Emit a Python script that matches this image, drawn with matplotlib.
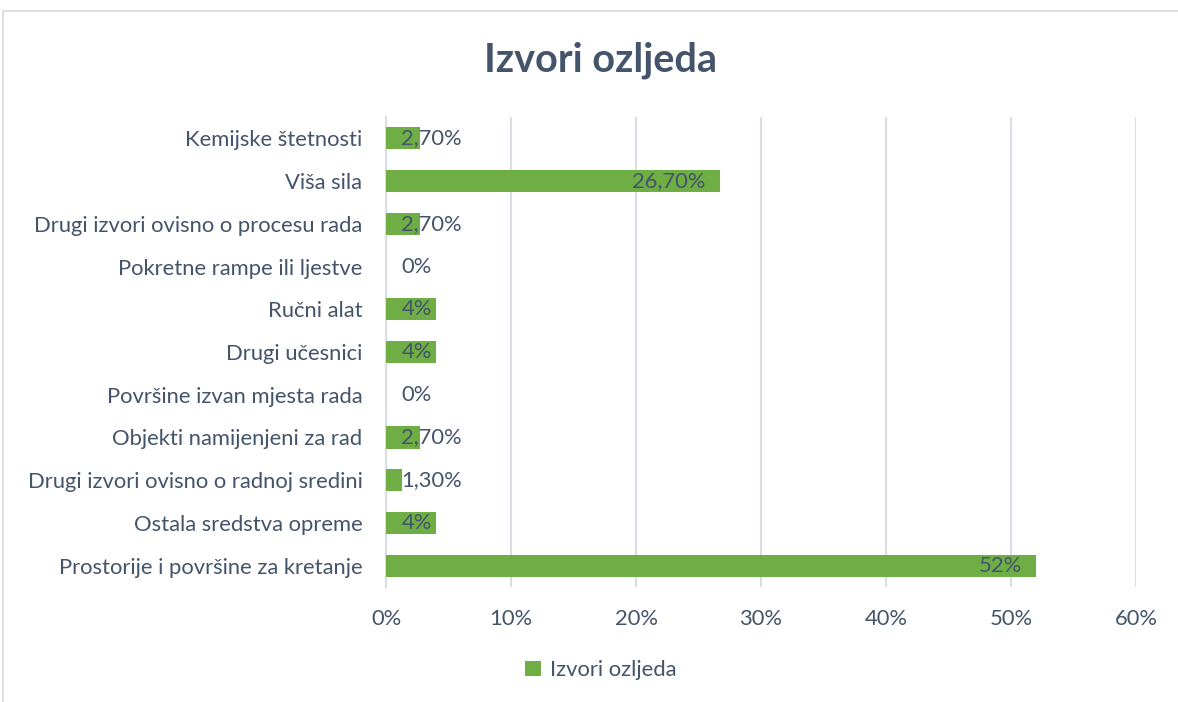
import matplotlib.pyplot as plt
from matplotlib.patches import Rectangle
from matplotlib.ticker import FuncFormatter

plt.rcParams['font.family'] = ['Lato', 'DejaVu Sans']

kategorije = ["Prostorije i površine za kretanje", "Ostala sredstva opreme",
              "Drugi izvori ovisno o radnoj sredini", "Objekti namijenjeni za rad",
              "Površine izvan mjesta rada", "Drugi učesnici", "Ručni alat",
              "Pokretne rampe ili ljestve", "Drugi izvori ovisno o procesu rada",
              "Viša sila", "Kemijske štetnosti"]
vrijednosti = [52, 4, 1.3, 2.7, 0, 4, 4, 0, 2.7, 26.7, 2.7]
oznake = ["52%", "4%", "1,30%", "2,70%", "0%", "4%", "4%", "0%", "2,70%", "26,70%", "2,70%"]

tekst = "#44546A"
zelena = "#6EAE45"
mreza = "#D9DEE4"
fs = 15.8

fig = plt.figure(figsize=(11.78, 7.02), dpi=100)
ax = fig.add_axes([0.3277, 0.1638, 0.6366, 0.6695])

# okvir grafikona
fig.patches.append(Rectangle((3 / 1178, -0.1), 1.2, 1 - 11 / 702 + 0.1,
                             transform=fig.transFigure, fill=False,
                             edgecolor="#D9D9D9", lw=1.2))

y = range(len(kategorije))
ax.barh(y, vrijednosti, height=0.52, color=zelena, zorder=3, label="Izvori ozljeda")

for i, (v, s) in enumerate(zip(vrijednosti, oznake)):
    if v >= 10:
        ax.annotate(s, (v, i), xytext=(-10, 0), textcoords="offset points",
                    ha="right", va="center", fontsize=fs, color=tekst, zorder=4)
    else:
        ax.annotate(s, (0, i), xytext=(11, 0), textcoords="offset points",
                    ha="left", va="center", fontsize=fs, color=tekst, zorder=4)

ax.set_xlim(0, 60)
ax.set_ylim(-0.5, len(kategorije) - 0.5)
ax.set_xticks(range(0, 61, 10))
ax.xaxis.set_major_formatter(FuncFormatter(lambda x, p: f"{x:.0f}%"))
ax.set_yticks(list(y))
ax.set_yticklabels(kategorije)
ax.tick_params(axis="both", length=0, labelsize=fs, labelcolor=tekst)
ax.tick_params(axis="x", pad=16)
ax.tick_params(axis="y", pad=17)
ax.grid(axis="x", color=mreza, lw=1.5, zorder=0)
for sp in ["top", "right", "bottom"]:
    ax.spines[sp].set_visible(False)
ax.spines["left"].set_color(mreza)
ax.spines["left"].set_linewidth(1.5)

fig.text(600 / 1178, 1 - 60 / 702, "Izvori ozljeda", ha="center", va="center",
         fontsize=28.5, fontweight="bold", color=tekst)

leg = fig.legend(loc="center", bbox_to_anchor=(0.51, 1 - 670 / 702), frameon=False,
                 fontsize=fs, handlelength=0.7, handleheight=0.7, handletextpad=0.4)
for t in leg.get_texts():
    t.set_color(tekst)

fig.savefig("out.png", dpi=100)
